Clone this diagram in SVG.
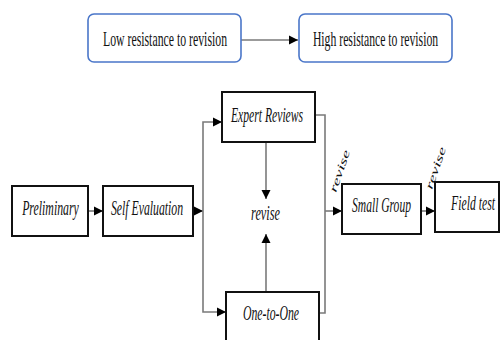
<svg xmlns="http://www.w3.org/2000/svg" width="500" height="340" viewBox="0 0 500 340">
  <style>
    .top { fill: #ffffff; stroke: #4a76c9; stroke-width: 1.6; }
    .box { fill: #ffffff; stroke: #111111; stroke-width: 2; }
    .conn { fill: none; stroke: #7a7a7a; stroke-width: 1.6; }
    .t { font-family: "Liberation Serif", "Times New Roman", serif; fill: #111111; text-anchor: middle; }
    .up { font-size: 22px; }
    .it { font-size: 22px; font-style: italic; }
    .rv { font-size: 11px; font-style: italic; text-anchor: start; }
  </style>
  <defs>
    <marker id="ah" viewBox="0 0 10 10" refX="10" refY="5" markerUnits="userSpaceOnUse" markerWidth="9" markerHeight="10" orient="auto">
      <path d="M0,0 L10,5 L0,10 z" fill="#000000"/>
    </marker>
  </defs>

  <g id="connectors">
    <path class="conn" d="M241,40 H298" marker-end="url(#ah)"/>
    <path class="conn" d="M88,211 H103" marker-end="url(#ah)"/>
    <path class="conn" d="M193,211 H203" marker-end="url(#ah)"/>
    <path class="conn" d="M203,211 V122 H222" marker-end="url(#ah)"/>
    <path class="conn" d="M203,211 V312 H226" marker-end="url(#ah)"/>
    <path class="conn" d="M266,142 V199" marker-end="url(#ah)"/>
    <path class="conn" d="M266,292 V234" marker-end="url(#ah)"/>
    <path class="conn" d="M315,115 H325 V313 H319"/>
    <path class="conn" d="M325,211 H342" marker-end="url(#ah)"/>
    <path class="conn" d="M421,211 H435" marker-end="url(#ah)"/>
    <text class="t rv" transform="translate(336,193) rotate(-71)" textLength="44" lengthAdjust="spacingAndGlyphs">revise</text>
    <text class="t rv" transform="translate(432,190) rotate(-71)" textLength="44" lengthAdjust="spacingAndGlyphs">revise</text>
  </g>

  <g id="low">
    <rect class="top" x="88" y="14" width="153" height="48" rx="6"/>
    <text class="t up" transform="translate(165,46) scale(0.535,1)" textLength="232" lengthAdjust="spacingAndGlyphs">Low resistance to revision</text>
  </g>
  <g id="high">
    <rect class="top" x="299" y="14" width="153" height="48" rx="6"/>
    <text class="t up" transform="translate(375.5,46) scale(0.535,1)" textLength="234" lengthAdjust="spacingAndGlyphs">High resistance to revision</text>
  </g>

  <g id="preliminary">
    <rect class="box" x="12" y="186" width="76" height="50"/>
    <text class="t it" transform="translate(50.5,215) scale(0.535,1)" textLength="106" lengthAdjust="spacingAndGlyphs">Preliminary</text>
  </g>
  <g id="self-evaluation">
    <rect class="box" x="103" y="186" width="90" height="50"/>
    <text class="t it" transform="translate(147,215) scale(0.535,1)" textLength="135" lengthAdjust="spacingAndGlyphs">Self Evaluation</text>
  </g>
  <g id="expert-reviews">
    <rect class="box" x="222" y="92" width="93" height="50"/>
    <text class="t it" transform="translate(267,122) scale(0.535,1)" textLength="135" lengthAdjust="spacingAndGlyphs">Expert Reviews</text>
  </g>
  <g id="revise">
    <text class="t it" transform="translate(265.5,220) scale(0.535,1)" textLength="54" lengthAdjust="spacingAndGlyphs">revise</text>
  </g>
  <g id="one-to-one">
    <rect class="box" x="226" y="292" width="93" height="60"/>
    <text class="t it" transform="translate(271,320) scale(0.535,1)" textLength="105" lengthAdjust="spacingAndGlyphs">One-to-One</text>
  </g>
  <g id="small-group">
    <rect class="box" x="342" y="184" width="79" height="50"/>
    <text class="t it" transform="translate(381.5,212) scale(0.535,1)" textLength="110" lengthAdjust="spacingAndGlyphs">Small Group</text>
  </g>
  <g id="field-test">
    <rect class="box" x="435" y="182" width="64" height="50"/>
    <text class="t it" transform="translate(473,210) scale(0.535,1)" textLength="82" lengthAdjust="spacingAndGlyphs">Field test</text>
  </g>
</svg>
